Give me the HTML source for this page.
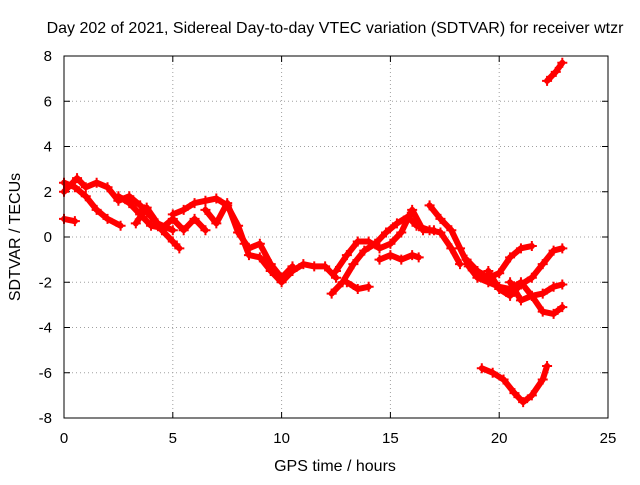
<!DOCTYPE html>
<html><head><meta charset="utf-8"><style>
body{margin:0;background:#fff}
svg text{font-family:"Liberation Sans",sans-serif;font-size:15px;fill:#000}
svg text.big{font-size:16px}
</style></head><body>
<svg id="chart" width="640" height="480">
<text class="big" x="335" y="33" text-anchor="middle">Day 202 of 2021, Sidereal Day-to-day VTEC variation (SDTVAR) for receiver wtzr</text>
<text class="big" x="335" y="471" text-anchor="middle">GPS time / hours</text>
<text class="big" transform="translate(20,237) rotate(-90)" text-anchor="middle">SDTVAR / TECUs</text>
<g id="grid"></g><g id="ticks"></g><g id="marks"></g>
<rect x="64" y="56" width="544" height="362" fill="none" stroke="#000"/>
</svg>
<script>
const xTicks=[0,5,10,15,20,25];
const yTicks=[-8,-6,-4,-2,0,2,4,6,8];
const traceA=[[0,2.4],[0.5,2.2],[1,1.8],[1.5,1.2],[2,0.8],[2.6,0.5]];
const traceB=[[0,2.0],[0.6,2.6],[1,2.2],[1.5,2.4],[2,2.2],[2.5,1.6],[3,1.8],[3.5,1.4],[4,0.9],[4.5,0.3],[5,-0.2],[5.3,-0.5]];
const traceC=[[0,0.8],[0.5,0.7]];
const traceD=[[2.5,1.8],[3,1.5],[3.5,1.0],[4,0.5],[4.5,0.4],[5,0.8],[5.5,0.3],[6,0.8],[6.5,0.3]];
const traceE=[[3.3,0.6],[3.8,1.3],[4.3,0.6],[5,0.3]];
const traceF=[[5,1.0],[5.5,1.2],[6,1.5],[6.5,1.6],[7,1.7],[7.5,1.4],[8,0.5],[8.3,-0.3],[8.5,-0.8],[9,-0.9],[9.5,-1.5],[10,-2.0],[10.5,-1.5],[11,-1.2],[11.5,-1.3],[12,-1.3],[12.5,-1.8]];
const traceG=[[6.5,1.2],[7,0.6],[7.5,1.5],[8,0.2],[8.5,-0.5],[9,-0.3],[9.5,-1.2],[10,-1.8],[10.5,-1.3]];
const traceH=[[12.3,-2.5],[12.8,-2.0],[13.3,-1.2],[13.8,-0.6],[14.3,-0.3],[14.8,0.2],[15.3,0.6],[15.8,0.9],[16.2,0.5],[16.8,0.3],[17.3,0.2],[17.8,-0.5],[18.2,-1.2]];
const traceI=[[12.5,-1.5],[13,-0.8],[13.5,-0.2],[14,-0.2],[14.5,-0.5],[15,-0.3],[15.5,0.2],[16,1.2],[16.5,0.3],[17,0.3]];
const traceJ=[[13,-2.0],[13.5,-2.3],[14,-2.2]];
const traceJ2=[[14.5,-1.0],[15,-0.8],[15.5,-1.0],[16,-0.8],[16.3,-0.9]];
const traceK=[[16.8,1.4],[17.3,0.8],[17.8,0.3],[18.2,-0.5],[18.6,-1.3],[19,-1.8],[19.5,-2.0],[20,-2.2],[20.5,-2.3],[21,-2.0],[21.5,-2.6],[22,-2.5],[22.5,-2.2],[22.9,-2.1]];
const traceL=[[18.5,-1.0],[19,-1.5],[19.5,-1.8],[20,-1.6],[20.5,-0.9],[21,-0.5],[21.5,-0.4]];
const traceM=[[19.5,-1.5],[20,-2.3],[20.5,-2.6],[21,-2.1],[21.5,-1.8],[22,-1.2],[22.5,-0.6],[22.9,-0.5]];
const traceN=[[20.5,-2.0],[21,-2.8],[21.5,-2.6],[22,-3.3],[22.5,-3.4],[22.9,-3.1]];
const traceO=[[19.2,-5.8],[19.7,-6.0],[20.2,-6.3],[20.7,-6.9],[21.1,-7.3],[21.5,-7.0],[22,-6.3],[22.2,-5.7]];
const traceP=[[22.2,6.9],[22.6,7.3],[22.9,7.7]];
const traces=[traceA,traceB,traceC,traceD,traceE,traceF,traceG,traceH,traceI,traceJ,traceJ2,traceK,traceL,traceM,traceN,traceO,traceP];
const X0=64,X1=608,Y0=418,Y1=56;
const sx=t=>X0+(t-0)/25*(X1-X0);
const sy=v=>Y0-(v+8)/16*(Y0-Y1);
const NS="http://www.w3.org/2000/svg";
const grid=document.getElementById('grid'),ticks=document.getElementById('ticks'),marks=document.getElementById('marks');
function mk(tag,attrs,parent){const e=document.createElementNS(NS,tag);for(const k in attrs)e.setAttribute(k,attrs[k]);parent.appendChild(e);return e;}
xTicks.forEach(t=>{const x=sx(t);
 if(t>0&&t<25){const g=mk('line',{x1:x,x2:x,y1:Y1,y2:Y0,stroke:'#a0a0a0','stroke-dasharray':'1,3'},grid);
 
 }
 mk('line',{x1:x,x2:x,y1:Y0,y2:Y0-6,stroke:'#000'},ticks);mk('line',{x1:x,x2:x,y1:Y1,y2:Y1+6,stroke:'#000'},ticks);
 const l=mk('text',{x:x,y:Y0+25,'text-anchor':'middle'},ticks);l.textContent=t;
 
 });
yTicks.forEach(v=>{const y=sy(v);
 if(v>-8&&v<8){const g=mk('line',{x1:X0,x2:X1,y1:y,y2:y,stroke:'#a0a0a0','stroke-dasharray':'1,3'},grid);
 
 }
 mk('line',{x1:X0,x2:X0+6,y1:y,y2:y,stroke:'#000'},ticks);mk('line',{x1:X1,x2:X1-6,y1:y,y2:y,stroke:'#000'},ticks);
 const l=mk('text',{x:X0-12,y:y+5,'text-anchor':'end'},ticks);l.textContent=v;
 
 });
traces.forEach(tr=>{
 const p=mk('polyline',{points:tr.map(d=>sx(d[0])+','+sy(d[1])).join(' '),fill:'none',stroke:'#f00','stroke-width':6,'stroke-linejoin':'round','stroke-linecap':'round'},marks);
 
 
 tr.forEach(d=>{const x=sx(d[0]),y=sy(d[1]);
  const m=mk('path',{d:`M${x-5},${y}H${x+5}M${x},${y-5}V${y+5}`,stroke:'#f00','stroke-width':2},marks);
  
  });
});
</script>
</body></html>
